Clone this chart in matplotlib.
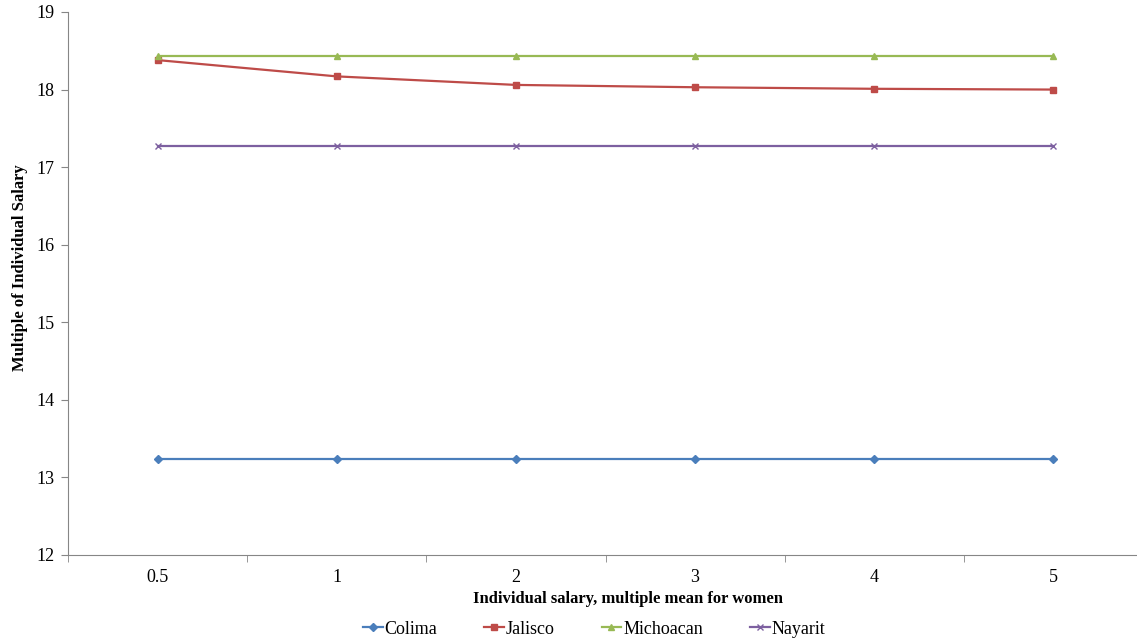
import matplotlib
matplotlib.use('Agg')
import matplotlib.pyplot as plt
import numpy as np

categories = ['0.5', '1', '2', '3', '4', '5']
colima = [13.24, 13.24, 13.24, 13.24, 13.24, 13.24]
jalisco = [18.38, 18.17, 18.06, 18.03, 18.01, 18.00]
michoacan = [18.43, 18.43, 18.43, 18.43, 18.43, 18.43]
nayarit = [17.27, 17.27, 17.27, 17.27, 17.27, 17.27]

series = [
    ('Colima', colima, '#4A7EBB', 'D', 4),
    ('Jalisco', jalisco, '#BE4B48', 's', 5),
    ('Michoacan', michoacan, '#98B954', '^', 5),
    ('Nayarit', nayarit, '#7D60A0', 'x', 5),
]

plt.rcParams['font.family'] = ['Liberation Serif', 'DejaVu Serif']

fig = plt.figure(figsize=(11.37, 6.43), dpi=100)
ax = fig.add_axes([68 / 1137, 88 / 643, 1075 / 1137, 543 / 643])

x = np.arange(len(categories))
for name, vals, color, marker, ms in series:
    ax.plot(x, vals, color=color, marker=marker, markersize=ms, linewidth=1.6,
            markeredgewidth=1.0, label=name)

ax.set_xlim(-0.5, len(categories) - 0.5)
ax.set_ylim(12, 19)
ax.set_yticks(range(12, 20))
ax.set_xticks(x)
ax.set_xticklabels(categories)
ax.set_xticks(np.arange(-0.5, len(categories), 1.0), minor=True)
ax.tick_params(axis='x', which='major', length=0, pad=10, labelsize=13)
ax.tick_params(axis='x', which='minor', length=5, color='#868686', direction='out')
ax.tick_params(axis='y', length=5, color='#868686', direction='out', labelsize=13, pad=5)

for s in ['top', 'right']:
    ax.spines[s].set_visible(False)
for s in ['left', 'bottom']:
    ax.spines[s].set_color('#868686')

ax.set_xlabel('Individual salary, multiple mean for women', fontweight='bold',
              fontsize=12)
ax.xaxis.set_label_coords(0.521, -0.066)
ax.set_ylabel('Multiple of Individual Salary', fontweight='bold', fontsize=12)
ax.yaxis.set_label_coords(-0.037, 0.530)

fig.legend(loc='center', bbox_to_anchor=(594 / 1137, 1 - 629 / 643), ncol=4,
           frameon=False, fontsize=13, handlelength=1.1, handletextpad=0.1,
           columnspacing=2.6, borderpad=0)

fig.savefig('out.png', dpi=100)
